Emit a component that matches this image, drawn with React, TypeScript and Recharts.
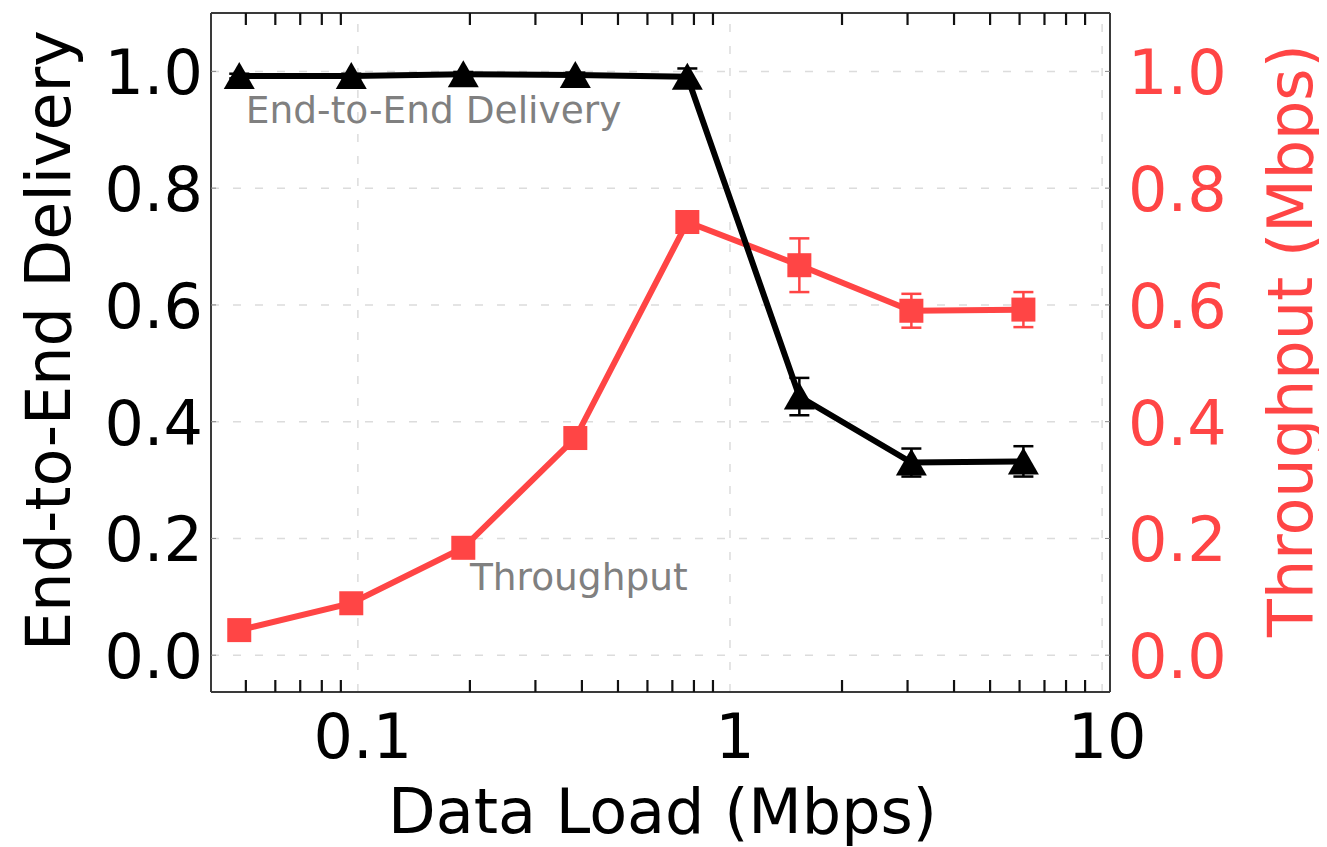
import React from 'react';
import {
  ComposedChart, Line, XAxis, YAxis, ErrorBar, ReferenceLine, ReferenceDot,
} from 'recharts';

const loads = [0.048, 0.096, 0.192, 0.384, 0.768, 1.536, 3.072, 6.144];
const delivery = [0.992, 0.992, 0.995, 0.994, 0.991, 0.443, 0.33, 0.332];
const deliveryErr = [0.004, 0.004, 0.004, 0.004, 0.014, 0.032, 0.024, 0.026];
const throughput = [0.043, 0.089, 0.184, 0.372, 0.742, 0.668, 0.59, 0.592];
const throughputErr = [0.002, 0.003, 0.004, 0.005, 0.006, 0.046, 0.029, 0.03];

const xMajorTicks = [0.1, 1, 10];
const xMajorLabels = ['0.1', '1', '10'];
const xMinorTicks = [0.05, 0.06, 0.07, 0.08, 0.09, 0.2, 0.3, 0.4, 0.5, 0.6, 0.7, 0.8, 0.9, 2, 3, 4, 5, 6, 7, 8, 9];
const yTicks = [0, 0.2, 0.4, 0.6, 0.8, 1.0];

const annotationText = ['End-to-End Delivery', 'Throughput'];
const annotationX = [0.05, 0.2];
const annotationY = [0.912, 0.112];

const RED = '#ff4545';
const FONT = 'DejaVu Sans';
const FRAME = '#3a3a3a';

const data = loads.map((l, i) => ({
  load: l,
  delivery: delivery[i],
  dErr: deliveryErr[i],
  throughput: throughput[i],
  tErr: throughputErr[i],
}));

const allXTicks = [...xMajorTicks, ...xMinorTicks].sort((a, b) => a - b);

const BottomTick = (props: any) => {
  const { x, y, payload } = props;
  const idx = xMajorTicks.indexOf(payload.value);
  if (idx >= 0) {
    return (
      <text x={x + 5} y={y + 66} textAnchor="middle" fontSize={62} fontFamily={FONT} fill="#000">
        {xMajorLabels[idx]}
      </text>
    );
  }
  return <line x1={x} x2={x} y1={y} y2={y - 12} stroke="#111" strokeWidth={2.2} />;
};

const TopTick = (props: any) => {
  const { x, y, payload } = props;
  if (xMajorTicks.indexOf(payload.value) >= 0) return <g />;
  return <line x1={x} x2={x} y1={y} y2={y + 12} stroke="#111" strokeWidth={2.2} />;
};

const LeftTick = (props: any) => {
  const { x, y, payload } = props;
  return (
    <g>
      <line x1={x} x2={x + 5} y1={y} y2={y} stroke="#888" strokeWidth={1} />
      <text x={x - 8} y={y + 23} textAnchor="end" fontSize={62} fontFamily={FONT} fill="#000">
        {Number(payload.value).toFixed(1)}
      </text>
    </g>
  );
};

const RightTick = (props: any) => {
  const { x, y, payload } = props;
  return (
    <g>
      <line x1={x} x2={x - 5} y1={y} y2={y} stroke="#888" strokeWidth={1} />
      <text x={x + 18} y={y + 23} textAnchor="start" fontSize={62} fontFamily={FONT} fill={RED}>
        {Number(payload.value).toFixed(1)}
      </text>
    </g>
  );
};

const Triangle = (props: any) => {
  const { cx, cy, index } = props;
  if (cx == null || cy == null) return <g key={`t${index}`} />;
  return (
    <path
      key={`t${index}`}
      d={`M${cx},${cy - 14} L${cx + 15.5},${cy + 13} L${cx - 15.5},${cy + 13} Z`}
      fill="#000"
    />
  );
};

const Square = (props: any) => {
  const { cx, cy, index } = props;
  if (cx == null || cy == null) return <g key={`s${index}`} />;
  return <rect key={`s${index}`} x={cx - 12} y={cy - 12} width={24} height={24} fill={RED} />;
};

const LeftTitle = (props: any) => {
  const vb = props.viewBox || {};
  const x = vb.x + 62;
  const y = vb.y + vb.height / 2 - 12;
  return (
    <text x={x} y={y} transform={`rotate(-90, ${x}, ${y})`} textAnchor="middle" fontSize={62} fontFamily={FONT} fill="#000">
      End-to-End Delivery
    </text>
  );
};

const RightTitle = (props: any) => {
  const vb = props.viewBox || {};
  const x = vb.x + 202;
  const y = vb.y + vb.height / 2 - 12;
  return (
    <text x={x} y={y} transform={`rotate(-90, ${x}, ${y})`} textAnchor="middle" fontSize={62} fontFamily={FONT} fill={RED}>
      Throughput (Mbps)
    </text>
  );
};

const BottomTitle = (props: any) => {
  const vb = props.viewBox || {};
  const x = vb.x + vb.width / 2 + 2;
  const y = vb.y + 141;
  return (
    <text x={x} y={y} textAnchor="middle" fontSize={62} fontFamily={FONT} fill="#000">
      Data Load (Mbps)
    </text>
  );
};

const makeAnnotation = (text: string) => (props: any) => (
  <text x={props.cx} y={props.cy} textAnchor="start" fontSize={37.5} fontFamily={FONT} fill="#808080">
    {text}
  </text>
);

export default function App() {
  return (
    <ComposedChart
      width={1319}
      height={839}
      data={data}
      margin={{ top: 4, right: 0, bottom: 0, left: 0 }}
      style={{ fontFamily: FONT }}
    >
      <XAxis
        xAxisId="bottom"
        dataKey="load"
        type="number"
        scale="log"
        domain={[0.0403, 10.5]}
        allowDataOverflow
        ticks={allXTicks}
        interval={0}
        tick={<BottomTick />}
        tickLine={false}
        tickSize={0}
        tickMargin={0}
        axisLine={{ stroke: FRAME, strokeWidth: 2 }}
        height={155}
        label={BottomTitle}
      />
      <XAxis
        xAxisId="top"
        orientation="top"
        dataKey="load"
        type="number"
        scale="log"
        domain={[0.0403, 10.5]}
        allowDataOverflow
        ticks={allXTicks}
        interval={0}
        tick={<TopTick />}
        tickLine={false}
        tickSize={0}
        tickMargin={0}
        axisLine={{ stroke: FRAME, strokeWidth: 2 }}
        height={1}
      />
      <YAxis
        yAxisId="left"
        type="number"
        domain={[-0.063, 1.1]}
        allowDataOverflow
        ticks={yTicks}
        interval={0}
        tick={<LeftTick />}
        tickLine={false}
        tickSize={0}
        tickMargin={0}
        axisLine={{ stroke: FRAME, strokeWidth: 2 }}
        width={203}
        label={LeftTitle}
      />
      <YAxis
        yAxisId="right"
        orientation="right"
        type="number"
        domain={[-0.063, 1.1]}
        allowDataOverflow
        ticks={yTicks}
        interval={0}
        tick={<RightTick />}
        tickLine={false}
        tickSize={0}
        tickMargin={0}
        axisLine={{ stroke: FRAME, strokeWidth: 2 }}
        width={217}
        label={RightTitle}
      />
      {xMajorTicks.map((v) => (
        <ReferenceLine key={`gx${v}`} x={v} xAxisId="bottom" yAxisId="left" stroke="#dcdcdc" strokeWidth={1.5} strokeDasharray="8 14" />
      ))}
      {yTicks.map((v) => (
        <ReferenceLine key={`gy${v}`} y={v} xAxisId="bottom" yAxisId="left" stroke="#dcdcdc" strokeWidth={1.5} strokeDasharray="8 14" />
      ))}
      <Line
        xAxisId="bottom"
        yAxisId="right"
        dataKey="throughput"
        stroke={RED}
        strokeWidth={6}
        dot={Square}
        activeDot={false}
        isAnimationActive={false}
      >
        <ErrorBar dataKey="tErr" direction="y" width={10} stroke={RED} strokeWidth={2.5} />
      </Line>
      <Line
        xAxisId="bottom"
        yAxisId="left"
        dataKey="delivery"
        stroke="#000"
        strokeWidth={6}
        dot={Triangle}
        activeDot={false}
        isAnimationActive={false}
      >
        <ErrorBar dataKey="dErr" direction="y" width={10} stroke="#000" strokeWidth={2.5} />
      </Line>
      {annotationText.map((t, i) => (
        <ReferenceDot
          key={`a${i}`}
          x={annotationX[i]}
          y={annotationY[i]}
          xAxisId="bottom"
          yAxisId="left"
          r={0}
          shape={makeAnnotation(t)}
        />
      ))}
    </ComposedChart>
  );
}
